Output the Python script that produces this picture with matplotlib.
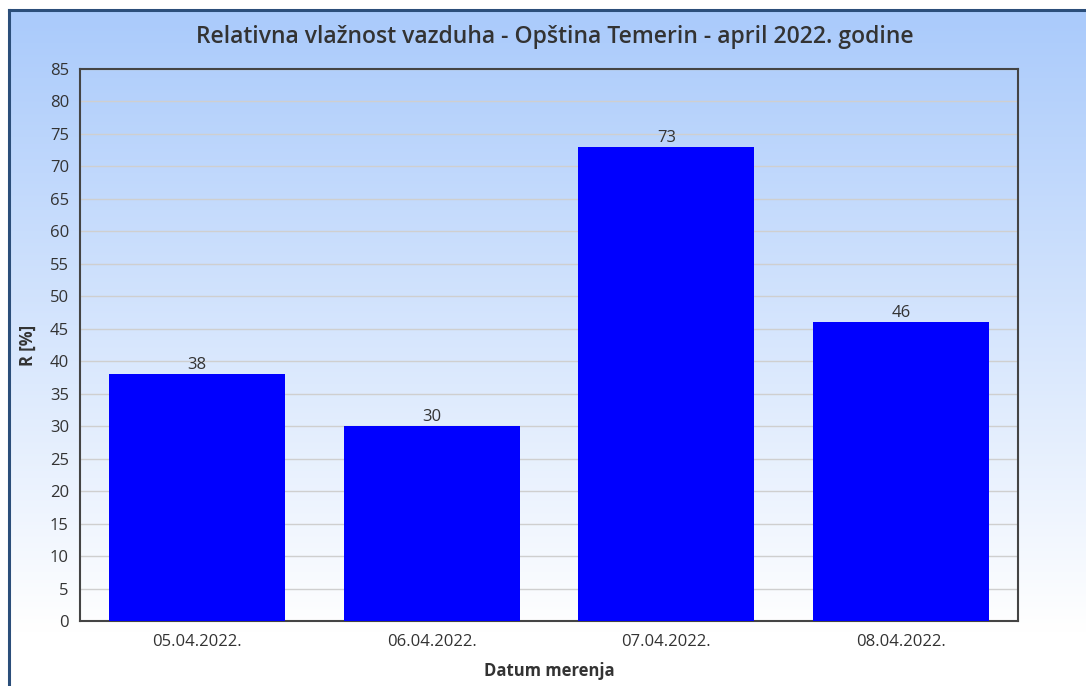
import numpy as np
import matplotlib
matplotlib.use('Agg')
import matplotlib.pyplot as plt
from matplotlib.lines import Line2D

dates = ['05.04.2022.', '06.04.2022.', '07.04.2022.', '08.04.2022.']
humidity = [38, 30, 73, 46]
yticks = list(range(0, 90, 5))

plt.rcParams['font.family'] = ['Open Sans', 'DejaVu Sans']

W, H = 1086, 686
fig = plt.figure(figsize=(W / 100, H / 100), dpi=100)
fig.patch.set_facecolor('white')

# gradient background inside the frame
bg = fig.add_axes([8 / W, 0, 1 - 8 / W, 1 - 9 / H])
bg.set_axis_off()
top = np.array([0.665, 0.793, 0.985])
bot = np.array([1.0, 1.0, 1.0])
t = np.linspace(0, 1, 256)[:, None]
grad = top + (bot - top) * np.clip(t / 0.92, 0, 1)
bg.imshow(grad[:, None, :], aspect='auto', extent=[0, 1, 0, 1])
bg.set_xlim(0, 1)
bg.set_ylim(0, 1)

# frame lines (left, top)
fig.add_artist(Line2D([9 / W, 9 / W], [0, 1 - 9.5 / H], color='#2b4e7a', lw=2.2))
fig.add_artist(Line2D([9 / W, 1], [1 - 9.5 / H, 1 - 9.5 / H], color='#2b4e7a', lw=2.2))

ax = fig.add_axes([80 / W, 1 - 621 / H, (1018 - 80) / W, (621 - 69) / H])
ax.patch.set_alpha(0)
x = np.arange(len(dates))
bars = ax.bar(x, humidity, width=0.75, color='#0000ff', zorder=3)
for xi, v in zip(x, humidity):
    ax.text(xi, v + 0.2, str(v), ha='center', va='bottom', fontsize=12, color='#333333', zorder=4)

ax.set_xlim(-0.5, len(dates) - 0.5)
ax.set_ylim(0, 85)
ax.set_yticks(yticks)
ax.set_xticks(x)
ax.set_xticklabels(dates)
ax.tick_params(axis='both', length=0, labelsize=12, labelcolor='#333333')
ax.tick_params(axis='x', pad=9)
ax.tick_params(axis='y', pad=8)
ax.yaxis.grid(True, color='#cfcfcf', lw=1, zorder=0)
for s in ax.spines.values():
    s.set_color('#444444')
    s.set_linewidth(1.5)

ax.set_xlabel('Datum merenja', fontsize=12, fontweight='bold', color='#333333', labelpad=9)
ax.set_ylabel('R [%]', fontsize=12, fontweight='bold', color='#333333', labelpad=9)

fig.text(555 / W, 1 - 37 / H, 'Relativna vlažnost vazduha - Opština Temerin - april 2022. godine',
         ha='center', va='center', fontsize=16.5, fontweight='semibold', color='#333333')

fig.savefig('out.png', dpi=100)
